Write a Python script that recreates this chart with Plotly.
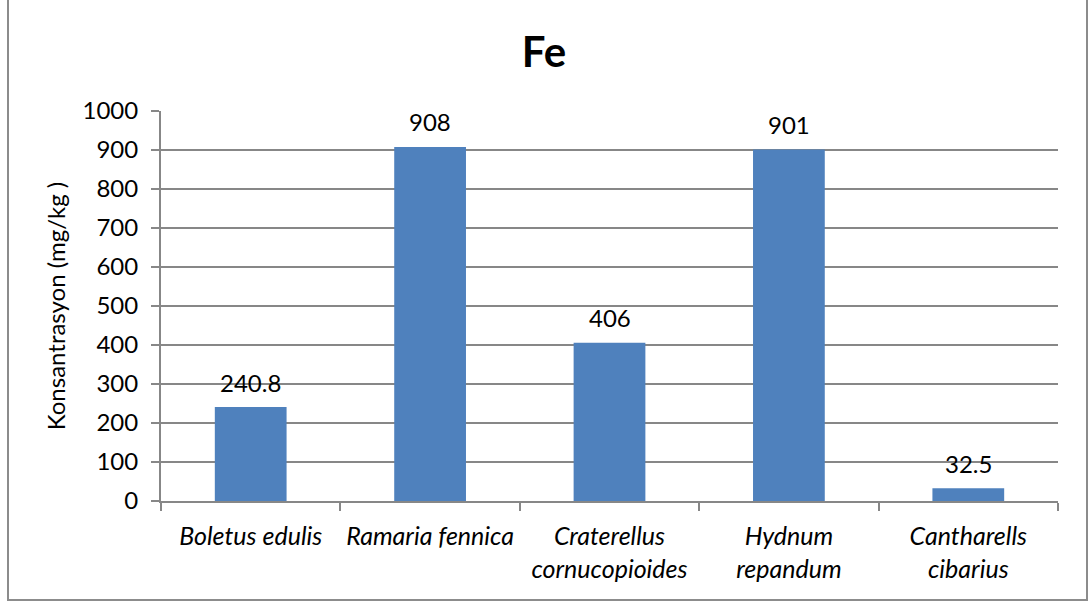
import plotly.graph_objects as go

# Fe concentration per mushroom species
species = [
    "Boletus edulis",
    "Ramaria fennica",
    "Craterellus<br>cornucopioides",
    "Hydnum<br>repandum",
    "Cantharells<br>cibarius",
]
fe_values = [240.8, 908, 406, 901, 32.5]
value_labels = ["240.8", "908", "406", "901", "32.5"]
y_ticks = [0, 100, 200, 300, 400, 500, 600, 700, 800, 900, 1000]

W, H = 1088, 602
L, R, T, B = 161, 30, 111, 101
FONT = "Lato"
GRID = "#878787"
BAR = "#4F81BD"

fig = go.Figure(
    go.Bar(
        x=species,
        y=fe_values,
        marker=dict(color=BAR, line=dict(width=0)),
        hoverinfo="x+y",
    )
)

# value labels above each bar
for name, val, lab in zip(species, fe_values, value_labels):
    fig.add_annotation(
        x=name, y=val, text=lab, showarrow=False,
        yshift=25, yanchor="middle",
        font=dict(family=FONT, size=24, color="#000000"),
    )

plot_w = W - L - R
plot_h = H - T - B
# outer frame of the chart area
fig.add_shape(
    type="rect", xref="paper", yref="paper", layer="below",
    x0=(8 - L) / plot_w, x1=(1087 - L) / plot_w,
    y0=(H - T - B - (600 - T)) / plot_h, y1=(H - T - B + T + 5) / plot_h,
    line=dict(color="#8c8c8c", width=2), fillcolor="rgba(0,0,0,0)",
)

fig.update_layout(
    width=W, height=H,
    margin=dict(l=L, r=R, t=T, b=B),
    paper_bgcolor="white", plot_bgcolor="white",
    bargap=0.6,
    showlegend=False,
    font=dict(family=FONT, color="#000000"),
    title=dict(
        text="<b>Fe</b>", x=0.5, xanchor="center",
        y=1 - 52 / H, yanchor="middle", yref="container",
        font=dict(family=FONT, size=42, color="#000000"),
    ),
)

fig.update_xaxes(
    type="category",
    showline=True, linecolor=GRID, linewidth=2,
    ticks="outside", ticklen=8, tickwidth=2, tickcolor=GRID,
    tickson="boundaries",
    showgrid=False,
    tickfont=dict(family=FONT, size=25, style="italic"),
    ticklabelstandoff=12,
)

fig.update_yaxes(
    range=[0, 1000],
    tickvals=y_ticks,
    showline=True, linecolor=GRID, linewidth=2,
    ticks="outside", ticklen=8, tickwidth=2, tickcolor=GRID,
    showgrid=True, gridcolor=GRID, gridwidth=1.5,
    zeroline=False,
    tickfont=dict(family=FONT, size=24),
    ticklabelstandoff=8,
    title=dict(text="Konsantrasyon (mg/kg )", font=dict(family=FONT, size=24), standoff=10),
)

fig.write_html("out.html")
